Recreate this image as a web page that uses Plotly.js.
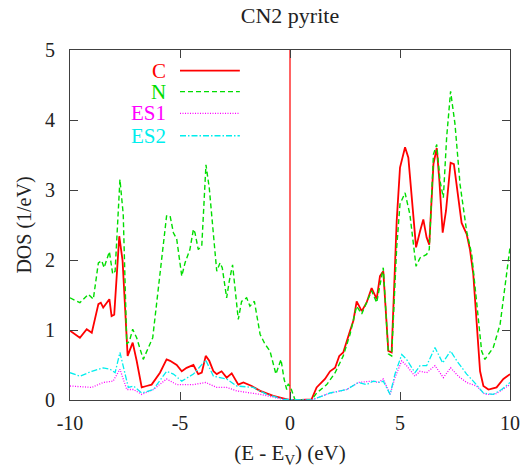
<!DOCTYPE html>
<html>
<head>
<meta charset="utf-8">
<script src="https://cdn.plot.ly/plotly-3.0.1.min.js"></script>
<style>html,body{margin:0;padding:0;background:#fff;}#chart{width:523px;height:468px;}</style>
</head>
<body>
<div id="chart"></div>
<script>
// ---- data (energy in eV, DOS in 1/eV) ----
const seriesNames = ["C", "N", "ES1", "ES2"];

const cE = [-10,-9.55,-9.24,-9.01,-8.71,-8.60,-8.49,-8.33,-8.21,-8.11,-7.99,-7.76,-7.61,-7.38,-7.15,-6.97,-6.74,-6.52,-6.29,-5.91,-5.61,-5.45,-5.15,-4.92,-4.70,-4.39,-4.17,-4.01,-3.83,-3.67,-3.48,-3.33,-3.11,-2.88,-2.65,-2.35,-2.12,-1.74,-1.36,-0.76,-0.15,0.0,0.5,0.98,1.21,1.59,1.82,2.05,2.24,2.42,2.73,2.88,3.03,3.26,3.48,3.71,3.94,4.09,4.24,4.47,4.62,4.85,5.0,5.23,5.38,5.53,5.73,5.91,6.06,6.21,6.33,6.52,6.67,6.79,6.94,7.09,7.30,7.45,7.65,7.80,8.03,8.18,8.33,8.48,8.64,8.79,9.02,9.39,9.70,10];
const cDOS = [0.99,0.89,1.01,0.96,1.37,1.39,1.32,1.39,1.44,1.20,1.22,2.34,1.99,0.63,0.82,0.56,0.18,0.20,0.22,0.39,0.58,0.56,0.50,0.41,0.46,0.50,0.37,0.39,0.63,0.56,0.41,0.37,0.41,0.32,0.38,0.22,0.25,0.20,0.13,0.06,0.01,0,0,0.01,0.18,0.30,0.41,0.46,0.63,0.68,0.99,1.13,1.41,1.27,1.39,1.60,1.44,1.77,1.84,0.70,0.68,2.56,3.32,3.61,3.46,2.89,2.18,2.41,2.58,2.32,2.22,3.37,3.60,3.13,2.39,2.70,3.39,3.37,2.89,2.53,2.37,2.15,1.80,1.18,0.41,0.20,0.15,0.18,0.30,0.37];

const nE = [-10,-9.55,-9.17,-8.94,-8.71,-8.56,-8.45,-8.33,-8.21,-8.06,-7.95,-7.73,-7.58,-7.42,-7.30,-7.15,-6.97,-6.67,-6.24,-5.91,-5.61,-5.45,-5.30,-5.15,-4.92,-4.77,-4.55,-4.39,-4.32,-4.17,-4.01,-3.82,-3.67,-3.33,-3.18,-3.08,-2.88,-2.76,-2.61,-2.35,-2.20,-1.97,-1.82,-1.62,-1.36,-1.14,-0.91,-0.64,-0.41,-0.27,-0.15,-0.08,0.03,0.23,0.6,0.98,1.21,1.67,2.05,2.42,2.73,3.03,3.26,3.71,3.94,4.24,4.47,4.62,4.85,5.0,5.23,5.45,5.73,5.91,6.21,6.33,6.52,6.67,6.82,6.97,7.12,7.30,7.5,7.73,8.03,8.26,8.48,8.71,8.86,9.24,9.55,9.77,10];
const nDOS = [1.46,1.39,1.51,1.44,1.96,1.99,1.89,2.01,2.12,1.80,1.84,3.15,2.65,0.80,0.84,1.01,0.89,0.58,0.89,1.80,2.63,2.63,2.39,2.30,1.77,1.96,2.15,2.44,2.39,2.15,2.20,3.36,3.03,1.84,1.96,1.89,1.46,1.70,1.93,1.15,1.41,1.46,1.34,1.41,0.94,0.80,0.70,0.37,0.58,0.30,0.15,0.23,0.18,0,0,0,0.10,0.22,0.39,0.63,0.94,1.34,1.23,1.56,1.39,1.89,0.66,0.63,2.18,2.80,2.96,2.65,1.91,2.03,2.08,2.15,3.51,3.65,3.13,2.89,3.75,4.41,3.94,3.08,2.41,2.08,1.41,0.70,0.58,0.75,1.08,1.60,2.18];

const es1E = [-10,-9.01,-8.49,-8.04,-7.73,-7.42,-7.12,-6.74,-6.21,-5.61,-5.15,-4.39,-3.83,-3.33,-2.88,-2.42,-1.36,-0.3,0.5,0.98,1.82,2.58,3.11,3.71,4.02,4.24,4.55,4.77,5.08,5.30,5.68,5.91,6.21,6.59,6.97,7.30,7.65,8.03,8.48,8.86,9.32,10];
const es1DOS = [0.20,0.18,0.25,0.27,0.44,0.15,0.15,0.08,0.15,0.30,0.22,0.22,0.25,0.18,0.18,0.13,0.08,0.01,0,0,0.10,0.15,0.25,0.27,0.25,0.30,0.08,0.32,0.56,0.49,0.34,0.41,0.39,0.49,0.32,0.46,0.34,0.25,0.20,0.08,0.08,0.22];

const es2E = [-10,-9.55,-9.01,-8.49,-8.18,-7.95,-7.73,-7.50,-7.35,-7.12,-6.74,-6.21,-5.61,-5.30,-4.92,-4.39,-3.83,-3.48,-2.88,-2.42,-1.67,-1.06,-0.3,0.5,0.98,1.82,2.58,3.11,3.48,3.79,4.09,4.24,4.55,4.77,5.08,5.30,5.68,5.91,6.21,6.59,6.94,7.30,7.58,8.03,8.33,8.79,9.24,9.62,10];
const es2DOS = [0.39,0.34,0.41,0.46,0.44,0.39,0.68,0.37,0.18,0.20,0.10,0.15,0.41,0.37,0.27,0.37,0.57,0.34,0.30,0.20,0.18,0.08,0.01,0,0,0.10,0.15,0.25,0.22,0.27,0.25,0.27,0.08,0.37,0.65,0.58,0.39,0.49,0.49,0.75,0.53,0.70,0.56,0.37,0.27,0.10,0.08,0.15,0.25];

// valence-band-top marker line
const markerE = [0, 0];
const markerDOS = [0, 5];

const xTickVals = [-10, -5, 0, 5, 10];
const xTickText = ["-10", "-5", "0", "5", "10"];
const yTickVals = [0, 1, 2, 3, 4, 5];
const yTickText = ["0", "1", "2", "3", "4", "5"];

// ---- styling ----
const colors = ["#ff0000", "#00dd00", "#ff00ff", "#00eeee"];
const dashes = ["solid", "5px,3px", "1px,1.5px", "6px,2px,1.5px,2px"];
const widths = [1.8, 1.4, 1.3, 1.3];
const FONT = "Liberation Serif";

const xs = [cE, nE, es1E, es2E];
const ys = [cDOS, nDOS, es1DOS, es2DOS];

const traces = [];
traces.push({x: markerE, y: markerDOS, mode: "lines", line: {color: "#ff3030", width: 1.5}, hoverinfo: "skip", showlegend: false});
for (let i = 0; i < 4; i++) {
  traces.push({x: xs[i], y: ys[i], name: seriesNames[i], mode: "lines",
    line: {color: colors[i], width: widths[i], dash: dashes[i]}, showlegend: false});
}

// legend: coloured text on the left, line sample on the right (gnuplot style)
const legY = [0.941, 0.881, 0.819, 0.755];
const annotations = [];
const shapes = [];
for (let i = 0; i < 4; i++) {
  annotations.push({xref: "paper", yref: "paper", x: 0.222, y: legY[i], xanchor: "right", yanchor: "middle",
    height: 20, text: seriesNames[i], showarrow: false, font: {family: FONT, size: 21, color: colors[i]}});
  shapes.push({type: "line", xref: "paper", yref: "paper", x0: 0.25, x1: 0.386, y0: legY[i], y1: legY[i],
    line: {color: colors[i], width: widths[i], dash: dashes[i]}});
}

const axisCommon = {
  showgrid: false, zeroline: false, showline: true, linecolor: "#404040", linewidth: 1,
  mirror: "ticks", ticks: "inside", ticklen: 8, tickcolor: "#404040", tickwidth: 1,
  tickfont: {family: FONT, size: 20, color: "#222"}
};

const layout = {
  width: 523, height: 468,
  margin: {l: 70, r: 13, t: 50, b: 68},
  paper_bgcolor: "#fff", plot_bgcolor: "#fff",
  font: {family: FONT, size: 20, color: "#222"},
  title: {text: "CN2 pyrite", font: {family: FONT, size: 22, color: "#222"},
    x: 0.5, xref: "paper", y: 1 - 15 / 468, yref: "container", yanchor: "middle"},
  xaxis: Object.assign({}, axisCommon, {range: [-10, 10], tickmode: "array", tickvals: xTickVals, ticktext: xTickText,
    ticklabelstandoff: 5,
    title: {text: "(E - E<sub>V</sub>) (eV)", font: {family: FONT, size: 21, color: "#222"}, standoff: 12}}),
  yaxis: Object.assign({}, axisCommon, {range: [0, 5], tickmode: "array", tickvals: yTickVals, ticktext: yTickText,
    ticklabelstandoff: 10,
    title: {text: "DOS (1/eV)", font: {family: FONT, size: 20, color: "#222"}, standoff: 8}}),
  annotations: annotations,
  shapes: shapes,
  showlegend: false
};

Plotly.newPlot("chart", traces, layout, {displayModeBar: false, staticPlot: true});
</script>
</body>
</html>
